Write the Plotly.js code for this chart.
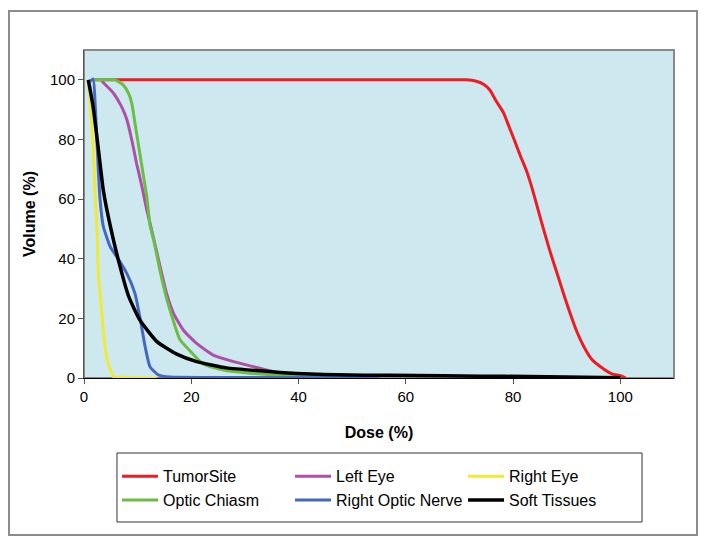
<!DOCTYPE html>
<html>
<head>
<meta charset="utf-8">
<script src="https://cdn.plot.ly/plotly-3.0.1.min.js"></script>
<style>
  html, body { margin: 0; padding: 0; background: #fff; }
  #chart { width: 704px; height: 542px; }
</style>
</head>
<body>
<div id="chart"></div>
<script>
// Series names (legend order)
const seriesNames = ["TumorSite", "Left Eye", "Right Eye", "Optic Chiasm", "Right Optic Nerve", "Soft Tissues"];

// TumorSite
const tumorDose = [2, 20, 40, 60, 71.3, 73.0, 74.5, 75.7, 76.8, 78.2, 79.2, 80.3, 81.4, 82.5, 83.4, 84.5, 85.5, 86.9, 88.5, 90.1, 91.9, 93.2, 94.7, 96.3, 98.4, 100, 101];
const tumorVol  = [100, 100, 100, 100, 100, 99.6, 98.5, 96.5, 93, 89, 84.5, 79.5, 74.3, 69.5, 64.5, 57.5, 51, 42.4, 33.4, 24.5, 15.5, 10.5, 6.2, 3.8, 1.4, 0.8, 0];

// Left Eye
const leftEyeDose = [3.3, 5.5, 7.0, 8.0, 8.9, 9.8, 10.8, 11.7, 12.6, 14.2, 15.4, 16.7, 18.5, 21.0, 24.1, 27.9, 31.6, 36.0, 40.3, 45.3, 50];
const leftEyeVol  = [99.6, 95.5, 91.0, 86.6, 79.9, 72.0, 64.2, 56.4, 49.7, 37.3, 28.4, 21.7, 16.1, 11.6, 7.7, 5.5, 3.8, 1.8, 1.0, 0.6, 0];

// Right Eye
const rightEyeDose = [0.8, 1.4, 1.7, 2.1, 2.4, 2.7, 3.3, 3.9, 4.5, 4.9, 5.5, 8, 13.5];
const rightEyeVol  = [100, 86.6, 76.5, 60.8, 50.8, 34.6, 22.3, 10.5, 4.9, 2.8, 0.5, 0.2, 0];

// Optic Chiasm
const chiasmDose = [2, 5.8, 7.3, 8.3, 8.9, 9.5, 10.1, 10.8, 11.7, 12.3, 13.2, 14.2, 15.4, 16.7, 17.9, 19.8, 22.3, 26.0, 31.0, 35.3, 41.5, 44.6, 48];
const chiasmVol  = [100, 100, 98.3, 95.5, 92.2, 85.5, 78.8, 70.9, 60.8, 51.5, 44.6, 35.7, 26.7, 18.9, 12.8, 9.0, 4.6, 2.7, 1.6, 1.0, 0.8, 0.5, 0];

// Right Optic Nerve
const nerveDose = [1.1, 1.7, 2.1, 2.4, 2.7, 3.0, 3.6, 4.9, 6.1, 8.0, 9.5, 10.4, 11.4, 12.3, 13.9, 16.0, 30, 55];
const nerveVol  = [99.5, 100.3, 91, 80, 68.7, 59.7, 50.8, 44, 40.7, 35, 28.4, 20.6, 10.5, 3.8, 1.0, 0.3, 0.2, 0.1];

// Soft Tissues
const softDose = [0.8, 1.7, 2.7, 3.6, 4.9, 6.4, 8.3, 10.4, 13.6, 17.3, 21.0, 26.6, 32.8, 37.2, 42.2, 47.1, 57, 67, 74, 83, 100];
const softVol  = [100, 91, 76.5, 63, 51, 39.6, 27.5, 19.5, 12.2, 8.0, 5.5, 3.4, 2.4, 1.8, 1.3, 1.05, 0.9, 0.75, 0.6, 0.5, 0.1];

// Axis ticks
const tickVals = [0, 20, 40, 60, 80, 100];
const tickText = ["0", "20", "40", "60", "80", "100"];

const colors = ["#ED1C24", "#B04FA6", "#EFE93A", "#6BBD45", "#4468BE", "#000000"];
const xs = [tumorDose, leftEyeDose, rightEyeDose, chiasmDose, nerveDose, softDose];
const ys = [tumorVol, leftEyeVol, rightEyeVol, chiasmVol, nerveVol, softVol];

const traces = seriesNames.map((n, i) => ({
  type: "scatter",
  mode: "lines",
  name: n,
  x: xs[i],
  y: ys[i],
  line: { color: colors[i], width: i === 5 ? 3.5 : 3, shape: "spline", smoothing: 0.5 }
}));

const font = "Arial, 'Liberation Sans', sans-serif";

const layout = {
  width: 704,
  height: 542,
  paper_bgcolor: "#ffffff",
  plot_bgcolor: "#CDE9EF",
  margin: { l: 84, r: 30, t: 50, b: 164 },
  font: { family: font, size: 15, color: "#000" },
  showlegend: true,
  legend: {
    orientation: "h",
    x: 0.056, xanchor: "left",
    y: -0.248, yanchor: "top",
    bgcolor: "rgba(0,0,0,0)",
    borderwidth: 0,
    entrywidth: 122,
    entrywidthmode: "pixels",
    itemwidth: 36,
    font: { family: font, size: 16, color: "#000" },
    traceorder: "normal"
  },
  xaxis: {
    range: [0, 110],
    tickvals: tickVals,
    ticktext: tickText,
    ticks: "outside",
    ticklen: 5,
    tickcolor: "#555",
    showgrid: false,
    zeroline: false,
    showline: true,
    linecolor: "#000",
    linewidth: 1,
    tickfont: { family: font, size: 15 },
    title: { text: "<b>Dose (%)</b>", font: { family: font, size: 16 }, standoff: 22 },
    fixedrange: true
  },
  yaxis: {
    range: [0, 110],
    tickvals: tickVals,
    ticktext: tickText,
    ticks: "outside",
    ticklen: 5,
    tickcolor: "#555",
    showgrid: false,
    zeroline: false,
    showline: true,
    linecolor: "#555",
    linewidth: 1,
    tickfont: { family: font, size: 15 },
    title: { text: "<b>Volume (%)</b>", font: { family: font, size: 16 }, standoff: 10 },
    fixedrange: true
  },
  shapes: [
    { type: "rect", xref: "paper", yref: "paper", x0: 0, x1: 1, y0: 0, y1: 1,
      line: { color: "#8a8a8a", width: 2 }, layer: "below" },
    { type: "rect", xref: "paper", yref: "paper", x0: -0.1271, x1: 1.0390, y0: -0.4787, y1: 1.1189,
      line: { color: "#8c8c8c", width: 2 }, fillcolor: "rgba(0,0,0,0)" },
    { type: "rect", xref: "paper", yref: "paper", x0: 0.0559, x1: 0.9458, y0: -0.4390, y1: -0.2287,
      line: { color: "#333333", width: 1 }, fillcolor: "rgba(0,0,0,0)" }
  ]
};

Plotly.newPlot("chart", traces, layout, { displayModeBar: false, staticPlot: true });
</script>
</body>
</html>
